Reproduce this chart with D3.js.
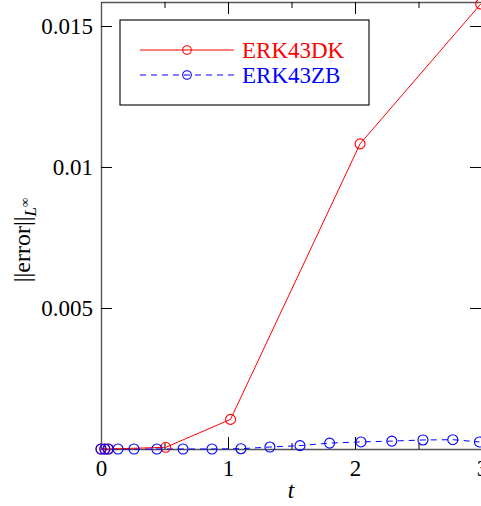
<!DOCTYPE html>
<html><head><meta charset="utf-8">
<script src="https://cdn.jsdelivr.net/npm/d3@7"></script>
<style>body{margin:0;background:#fff}svg{display:block}svg text{font-family:"Liberation Serif","Times New Roman","DejaVu Serif",serif !important}</style>
</head><body><svg id="c" width="481" height="506"></svg>
<script>
const seriesNames = ["ERK43DK", "ERK43ZB"];
const seriesColors = ["#ff0000", "#0000ff"];
const dkT = [0, 0.03, 0.06, 0.51, 1.02, 2.04, 2.99];
const dkErr = [0, 0, 0, 0.00006, 0.00105, 0.01082, 0.01578];
const zbT = [0, 0.03, 0.055, 0.134, 0.26, 0.44, 0.646, 0.874, 1.102, 1.33, 1.567, 1.80, 2.047, 2.29, 2.535, 2.77, 2.98];
const zbErr = [0, 0, 0, 0, 0, 0, 0, 0, 0.00001, 0.00007, 0.00012, 0.00021, 0.00025, 0.00028, 0.00032, 0.00033, 0.00025];
const xTicks = [0, 1, 2, 3];
const xMinorTicks = [0.5, 1.5, 2.5];
const yTicks = [0.005, 0.01, 0.015];
const yTickLabels = ["0.005", "0.01", "0.015"];

const svg = d3.select("#c");
const L = 101, R = 482, T = 2, B = 449;
const x = d3.scaleLinear().domain([0, 3]).range([L, R]);
const y = d3.scaleLinear().domain([0, 0.01585]).range([B, T]);

function styleAxis(g) {
  g.attr("font-family", null);
  g.select(".domain").attr("stroke", "#555").attr("stroke-width", 1.4);
  g.selectAll(".tick line").attr("stroke", "#000").attr("stroke-width", 1);
  g.selectAll(".tick text").attr("font-size", 23).attr("fill", "#000");
}

// bottom
svg.append("g").attr("transform", `translate(0,${B})`)
  .call(d3.axisBottom(x).tickValues(xTicks).tickSize(-12).tickPadding(11).tickSizeOuter(0).tickFormat(d3.format("d")))
  .call(styleAxis);
svg.append("g").attr("transform", `translate(0,${B})`)
  .call(d3.axisBottom(x).tickValues(xMinorTicks).tickSize(-6).tickSizeOuter(0).tickFormat(""))
  .call(styleAxis).call(g => g.select(".domain").remove());
// top
svg.append("g").attr("transform", `translate(0,${T})`)
  .call(d3.axisTop(x).tickValues(xTicks).tickSize(-12).tickSizeOuter(0).tickFormat(""))
  .call(styleAxis);
svg.append("g").attr("transform", `translate(0,${T})`)
  .call(d3.axisTop(x).tickValues(xMinorTicks).tickSize(-6).tickSizeOuter(0).tickFormat(""))
  .call(styleAxis).call(g => g.select(".domain").remove());
// left
svg.append("g").attr("transform", `translate(${L},0)`)
  .call(d3.axisLeft(y).tickValues(yTicks).tickSize(-11).tickPadding(8).tickSizeOuter(0).tickFormat((d, i) => yTickLabels[i]))
  .call(styleAxis);
// right
svg.append("g").attr("transform", `translate(${R},0)`)
  .call(d3.axisRight(y).tickValues(yTicks).tickSize(-12).tickSizeOuter(0).tickFormat(""))
  .call(styleAxis);

const line = d3.line().x(d => x(d[0])).y(d => y(d[1]));
const dk = dkT.map((t, i) => [t, dkErr[i]]);
const zb = zbT.map((t, i) => [t, zbErr[i]]);

svg.append("path").datum(zb).attr("d", line).attr("fill", "none")
  .attr("stroke", seriesColors[1]).attr("stroke-width", 1).attr("stroke-dasharray", "6,5");
svg.append("path").datum(dk).attr("d", line).attr("fill", "none")
  .attr("stroke", seriesColors[0]).attr("stroke-width", 1);
svg.append("g").selectAll("circle").data(dk).join("circle")
  .attr("cx", d => x(d[0])).attr("cy", d => y(d[1])).attr("r", 5)
  .attr("fill", "none").attr("stroke", seriesColors[0]).attr("stroke-width", 1.1);
svg.append("g").selectAll("circle").data(zb).join("circle")
  .attr("cx", d => x(d[0])).attr("cy", d => y(d[1])).attr("r", 5)
  .attr("fill", "none").attr("stroke", seriesColors[1]).attr("stroke-width", 1.1);

// legend
const lg = svg.append("g");
lg.append("rect").attr("x", 120).attr("y", 20).attr("width", 249).attr("height", 85)
  .attr("fill", "#fff").attr("stroke", "#000").attr("stroke-width", 1.1);
const rows = [50, 75];
seriesNames.forEach((name, i) => {
  lg.append("line").attr("x1", 140).attr("x2", 234).attr("y1", rows[i]).attr("y2", rows[i])
    .attr("stroke", seriesColors[i]).attr("stroke-width", 1)
    .attr("stroke-dasharray", i === 1 ? "6,5" : null);
  lg.append("circle").attr("cx", 187).attr("cy", rows[i]).attr("r", 4.3)
    .attr("fill", "none").attr("stroke", seriesColors[i]).attr("stroke-width", 1.1);
  lg.append("text").attr("x", 242).attr("y", rows[i] + 8).text(name)
    .attr("font-size", 23).attr("fill", seriesColors[i]);
});

// axis labels
svg.append("text").attr("x", 291).attr("y", 498).attr("text-anchor", "middle")
  .attr("font-size", 23).attr("font-style", "italic").text("t");
const yl = svg.append("text").attr("transform", "translate(30,240) rotate(-90)")
  .attr("text-anchor", "middle").attr("font-size", 24);
yl.append("tspan").text("||error||");
yl.append("tspan").attr("dy", 6).attr("font-size", 17).attr("font-style", "italic").text("L");
yl.append("tspan").attr("dy", -7).attr("font-size", 13).text("∞");
</script></body></html>
